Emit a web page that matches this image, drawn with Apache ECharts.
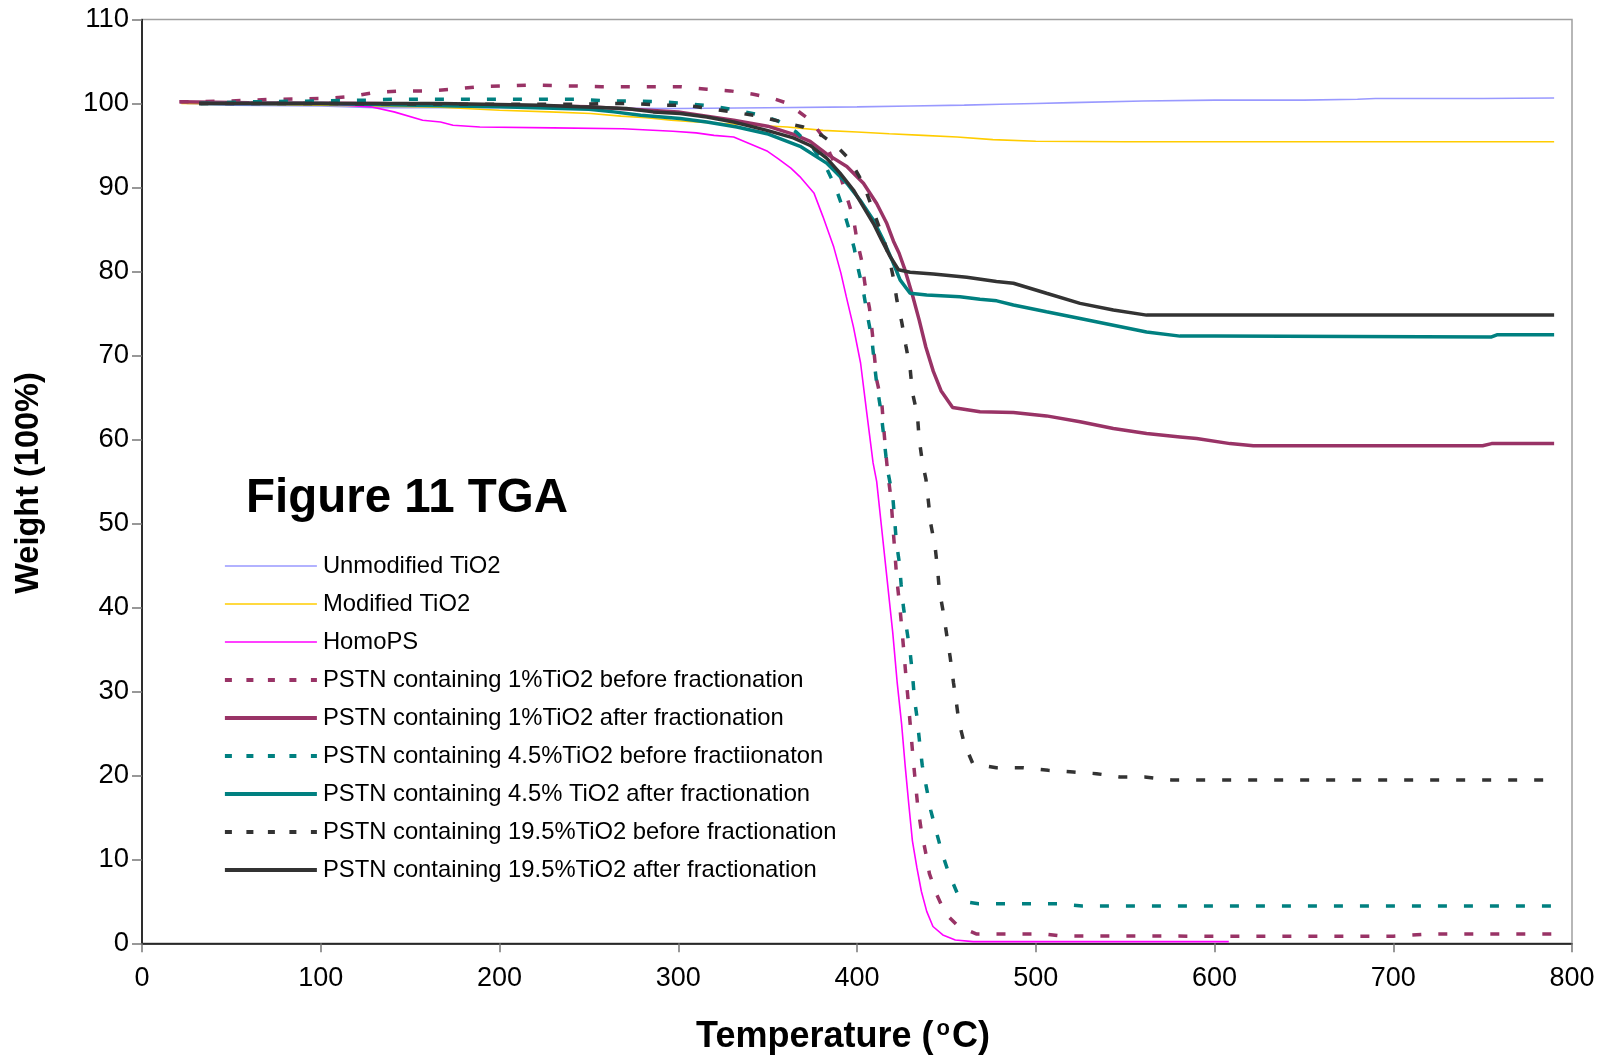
<!DOCTYPE html>
<html>
<head>
<meta charset="utf-8">
<script src="https://cdn.jsdelivr.net/npm/echarts@6/dist/echarts.min.js"></script>
<style>
html,body{margin:0;padding:0;background:#fff;}
#chart{width:1606px;height:1056px;}
</style>
</head>
<body>
<div id="chart"></div>
<script>
// ---- data: [temperature °C, weight %] ----
const unmodifiedTiO2 = [[25,100.0],[50,99.8],[100,99.7],[130,99.5],[200,99.5],[300,99.4],[350,99.5],[400,99.6],[430,99.7],[460,99.8],[480,99.9],[500,100.0],[520,100.1],[560,100.3],[600,100.4],[650,100.4],[680,100.5],[690,100.6],[750,100.6],[790,100.65]];
const modifiedTiO2 = [[22,100.0],[60,99.9],[100,99.8],[130,99.7],[167,99.55],[200,99.2],[228,99.0],[251,98.8],[268,98.5],[282,98.3],[296,98.0],[310,97.8],[335,97.5],[361,97.2],[381,96.8],[400,96.6],[418,96.4],[437,96.2],[456,96.0],[476,95.7],[500,95.5],[550,95.45],[650,95.45],[790,95.45]];
const homoPS = [[22,100.2],[60,100.1],[100,100.0],[128,99.6],[141,99.0],[157,98.0],[167,97.8],[174,97.4],[189,97.2],[230,97.1],[269,97.0],[297,96.7],[310,96.5],[320,96.2],[331,96.0],[340,95.2],[350,94.3],[356,93.4],[363,92.3],[368,91.3],[376,89.3],[381,86.5],[387,82.9],[391,79.8],[394,77.0],[398,73.4],[402,69.1],[405.5,63.1],[409,57.2],[411,55.0],[414,49.0],[417,43.0],[420,37.0],[422.5,31.0],[425,26.0],[427,21.0],[429,16.5],[431,12.2],[433.5,9.0],[436,6.2],[439,3.8],[442.5,2.0],[448,1.0],[455,0.4],[465,0.2],[520,0.2],[608,0.2]];
const pstn1Before = [[21,100.2],[50,100.3],[74,100.5],[103,100.6],[116,100.8],[130,101.3],[145,101.5],[160,101.5],[174,101.7],[189,102.0],[219,102.2],[257,102.0],[301,102.0],[316,101.7],[329,101.5],[342,101.1],[353,100.6],[360,100.1],[365,99.4],[374,98.0],[380,96.3],[385,94.0],[390.5,91.5],[394,89.1],[398,86.3],[400,83.7],[402.7,81.2],[404.5,78.4],[407,75.6],[408.6,72.6],[409.8,69.8],[411,67.1],[413.9,64.3],[414.8,61.7],[416,58.7],[417.2,56.0],[419,53.0],[420.5,48.5],[422.3,43.3],[424,40.0],[425.5,36.5],[427.3,32.0],[428.8,28.5],[430,25.5],[431.2,22.5],[432.5,19.5],[434,16.3],[436,13.4],[438.5,10.7],[440.5,8.3],[444.6,5.8],[449.3,3.6],[456.7,2.0],[467,1.1],[490,1.1],[505,1.1],[514,0.87],[600,0.85],[700,0.85],[720,1.1],[790,1.1]];
const pstn1After = [[21,100.2],[60,100.1],[130,100.0],[200,99.8],[250,99.6],[300,99.0],[331,98.0],[350,97.3],[365,96.3],[373.8,95.5],[383,94.0],[394.3,92.5],[403.6,90.5],[411,88.1],[416.7,85.7],[420.4,83.6],[423.5,82.2],[426.5,80.4],[431,77.2],[434.8,74.2],[438.5,71.0],[442.7,68.1],[447,65.8],[453.5,63.8],[468.8,63.3],[487.5,63.2],[506,62.8],[524.8,62.1],[543.4,61.3],[562,60.7],[580.7,60.3],[590,60.1],[608.7,59.5],[621.7,59.25],[750,59.25],[755,59.5],[790,59.5]];
const pstn45Before = [[33,100.0],[60,100.2],[100,100.3],[126,100.4],[140,100.5],[200,100.5],[245,100.5],[260,100.3],[275,100.3],[290,100.2],[304,100.0],[318,99.7],[333,99.2],[346,98.6],[356,97.9],[366,96.6],[375,94.8],[382,92.7],[387.7,90.2],[391.5,87.9],[395.2,85.3],[398.4,82.8],[400.8,80.2],[403.6,77.6],[405.8,74.8],[408.3,72.0],[409.6,69.3],[411.1,66.5],[413.3,63.5],[414.8,60.7],[416.2,58.0],[417.6,55.8],[420,53.2],[421,50.6],[422,47.8],[423.7,45.3],[424.7,42.7],[426,40.0],[427.8,37.4],[429.7,34.7],[431,32.1],[432.2,29.0],[433.5,27.0],[435,24.0],[436.5,21.2],[438.8,18.6],[441.3,15.8],[444.6,13.1],[447.8,10.6],[451.1,8.5],[456.2,5.9],[462,4.9],[468,4.7],[513,4.7],[526,4.45],[790,4.45]];
const pstn45After = [[32,100.0],[100,100.0],[200,99.6],[250,99.3],[264,99.0],[279,98.6],[301,98.2],[316,97.8],[332.8,97.2],[349.6,96.4],[368.2,94.9],[383,92.9],[394.3,90.5],[401.7,88.5],[409.2,86.1],[414.8,83.7],[419.5,81.4],[424.1,79.0],[429.7,77.4],[439,77.2],[457.6,77.0],[468.8,76.7],[478.2,76.5],[487.5,76.0],[506,75.2],[524.8,74.4],[543.4,73.6],[562,72.8],[580.7,72.3],[600,72.3],[755,72.2],[758,72.45],[790,72.45]];
const pstn195Before = [[32,100.0],[100,100.0],[198,99.9],[244,99.9],[259,100.0],[275,100.0],[289,99.8],[304,99.8],[317,99.4],[330,99.0],[345,98.5],[358,97.8],[370,97.2],[380.3,96.2],[388.7,94.9],[396,93.3],[401.3,91.3],[405.5,89.3],[410,86.7],[414.4,84.1],[417.6,82.0],[420.4,79.2],[422.3,76.6],[425,74.0],[427.3,71.2],[429.7,68.5],[431,65.6],[433.8,62.9],[434.8,60.0],[436.5,57.4],[438.6,55.2],[440,52.5],[441.3,49.9],[443.7,47.2],[445,44.7],[446.1,42.0],[448.3,39.4],[450.2,36.7],[452.1,34.1],[454,31.0],[455.5,28.8],[457,26.4],[460,23.8],[464.8,21.4],[478,20.9],[493,20.9],[507,20.6],[521,20.4],[534,20.2],[547,19.8],[561,19.8],[576,19.45],[790,19.45]];
const pstn195After = [[32,100.0],[100,100.0],[167,100.0],[223,99.8],[245,99.6],[271,99.4],[286,99.0],[301,98.8],[316,98.4],[331,97.8],[349.6,96.8],[364.4,95.9],[373.8,95.0],[383,93.5],[390.5,91.7],[398,89.7],[403.6,87.7],[409.2,85.7],[413.9,83.7],[418.5,81.8],[423.2,80.2],[429.7,79.9],[442.7,79.7],[461.4,79.3],[478,78.8],[487.5,78.6],[506,77.4],[524.8,76.2],[543.4,75.4],[562,74.8],[790,74.8]];

const seriesNames = [
  'Unmodified TiO2',
  'Modified TiO2',
  'HomoPS',
  'PSTN containing 1%TiO2 before fractionation',
  'PSTN containing 1%TiO2 after fractionation',
  'PSTN containing 4.5%TiO2 before fractiionaton',
  'PSTN containing 4.5% TiO2 after fractionation',
  'PSTN containing 19.5%TiO2 before fractionation',
  'PSTN containing 19.5%TiO2 after fractionation'
];
const xTicks = {min:0, max:800, interval:100};
const yTicks = {min:0, max:110, interval:10};

const FONT = '"Liberation Sans", Arial, sans-serif';
const dash = [9, 17];
const legendDash = [7, 14.5];
const styles = [
  {color:'#9999FF', width:1.6, type:'solid'},
  {color:'#FFCC00', width:1.6, type:'solid'},
  {color:'#FF00FF', width:1.6, type:'solid'},
  {color:'#993366', width:3.5, type:dash},
  {color:'#993366', width:3.5, type:'solid'},
  {color:'#008080', width:3.5, type:dash},
  {color:'#008080', width:3.5, type:'solid'},
  {color:'#333333', width:3.5, type:dash},
  {color:'#333333', width:3.5, type:'solid'}
];
const datasets = [unmodifiedTiO2, modifiedTiO2, homoPS, pstn1Before, pstn1After, pstn45Before, pstn45After, pstn195Before, pstn195After];

const chart = echarts.init(document.getElementById('chart'), null, {renderer:'canvas'});
chart.setOption({
  backgroundColor:'#ffffff',
  animation:false,
  grid:{left:142, right:34, top:19.5, bottom:112.7, show:true, borderColor:'#a0a0a0', borderWidth:1.5, backgroundColor:'transparent'},
  xAxis:{
    type:'value', min:xTicks.min, max:xTicks.max, interval:xTicks.interval,
    axisLine:{show:true, onZero:false, lineStyle:{color:'#000', width:1.5}},
    axisTick:{show:true, inside:false, length:9, lineStyle:{color:'#777', width:1.5}},
    axisLabel:{color:'#000', fontSize:27, fontFamily:FONT, margin:22},
    splitLine:{show:false}
  },
  yAxis:{
    type:'value', min:yTicks.min, max:yTicks.max, interval:yTicks.interval,
    axisLine:{show:true, onZero:false, lineStyle:{color:'#000', width:1.5}},
    axisTick:{show:true, inside:false, length:10, lineStyle:{color:'#777', width:1.5}},
    axisLabel:{color:'#000', fontSize:27.5, fontFamily:FONT, margin:13},
    splitLine:{show:false}
  },
  legend:{
    orient:'vertical', left:218, top:549,
    itemWidth:92, itemHeight:14, itemGap:14,
    textStyle:{color:'#000', fontSize:23.8, fontFamily:FONT, lineHeight:23, padding:[0,0,0,1]},
    data:seriesNames.map((n,i)=>({
      name:n,
      itemStyle:{opacity:0, color:'transparent', borderColor:'transparent', borderWidth:0},
      lineStyle:{color:styles[i].color, width:styles[i].width === 1.6 ? 1.6 : 3.8, type:styles[i].type === 'solid' ? 'solid' : legendDash, opacity:1}
    }))
  },
  graphic:[
    {type:'text', left:246, top:475, style:{text:'Figure 11 TGA', font:'bold 47.5px ' + FONT, fill:'#000'}},
    {type:'text', x:29, y:483, rotation:Math.PI/2, style:{text:'Weight (100%)', font:'bold 32.5px ' + FONT, fill:'#000', align:'center', verticalAlign:'middle'}},
    {type:'text', x:843, y:1037, style:{
      text:'{a|Temperature (}{s|o}{a|C)}', align:'center', verticalAlign:'middle', fill:'#000',
      rich:{a:{font:'bold 36px ' + FONT, fill:'#000'}, s:{font:'bold 22px ' + FONT, fill:'#000', padding:[0,2,16,3]}}
    }}
  ],
  series: datasets.map((d,i)=>({
    name:seriesNames[i], type:'line', data:d, showSymbol:false, symbol:'none',
    smooth:false, clip:true,
    lineStyle:{color:styles[i].color, width:styles[i].width, type:styles[i].type},
    itemStyle:{color:styles[i].color},
    z:2+i
  }))
});
</script>
</body>
</html>
